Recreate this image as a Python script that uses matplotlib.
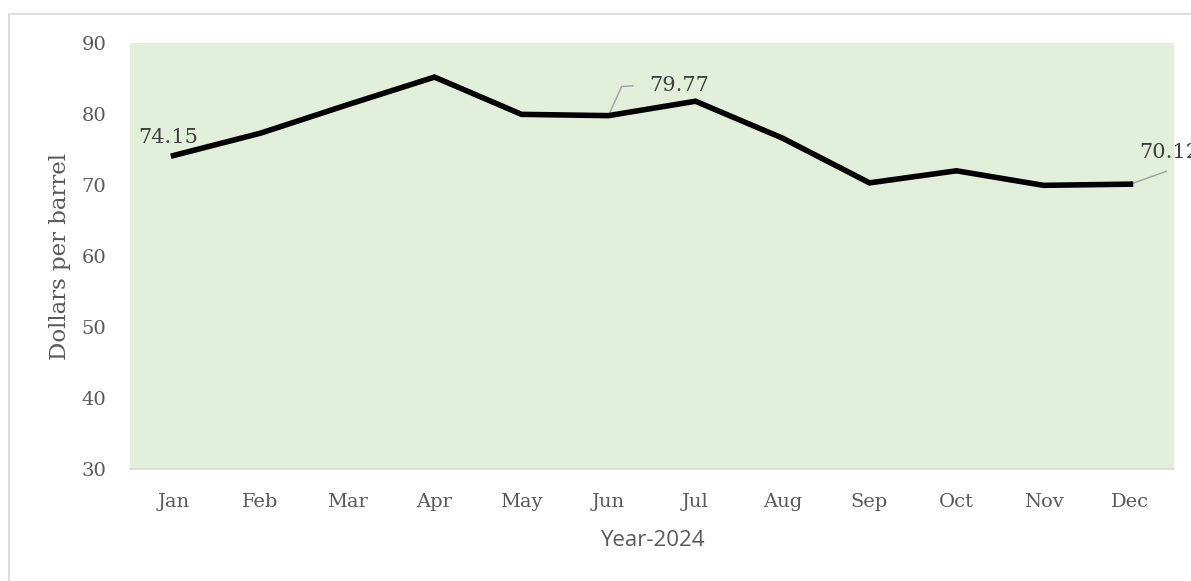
import matplotlib.pyplot as plt
from matplotlib.patches import Rectangle

months = ['Jan', 'Feb', 'Mar', 'Apr', 'May', 'Jun', 'Jul', 'Aug', 'Sep', 'Oct', 'Nov', 'Dec']
prices = [74.15, 77.3, 81.3, 85.2, 79.95, 79.77, 81.8, 76.6, 70.3, 72.0, 69.95, 70.12]
yticks = [30, 40, 50, 60, 70, 80, 90]

W, H = 1191, 581
fig = plt.figure(figsize=(W / 100, H / 100), dpi=100)
# plot area in pixels: x 130..1174, y 43..469
ax = fig.add_axes([130 / W, 1 - 469 / H, (1174 - 130) / W, (469 - 43) / H])
ax.set_facecolor('#e2efda')

# outer light frame, cut off at right and bottom like the reference
fig.patches.append(Rectangle((9 / W, -0.1), 1.2, 1 - 14 / H + 0.1, transform=fig.transFigure,
                             fill=False, edgecolor='#d9d9d9', linewidth=1.2))

x = list(range(len(months)))
ax.plot(x, prices, color='black', linewidth=4, solid_joinstyle='miter', zorder=3)

ax.set_xlim(-0.5, len(months) - 0.5)
ax.set_ylim(30, 90)
ax.set_yticks(yticks)
ax.set_xticks(x)
ax.set_xticklabels(months)

serif = 'DejaVu Serif'
txt = '#595959'
for lab in ax.get_xticklabels() + ax.get_yticklabels():
    lab.set_fontfamily(serif)
    lab.set_fontsize(14)
    lab.set_color(txt)
ax.tick_params(axis='both', length=0)
ax.tick_params(axis='x', pad=17)
ax.tick_params(axis='y', pad=17)

for s in ['top', 'right', 'left']:
    ax.spines[s].set_visible(False)
ax.spines['bottom'].set_color('#d9d9d9')
ax.spines['bottom'].set_linewidth(1.2)

ax.set_ylabel('Dollars per barrel', fontfamily=serif, fontsize=16.5, color=txt, va='center')
ax.yaxis.set_label_coords((60 - 130) / 1044, 0.5)
ax.set_xlabel('Year-2024', fontfamily='Open Sans', fontsize=16, color=txt, va='center')
ax.xaxis.set_label_coords(0.5, (469 - 540) / 426)

# data labels
lab_kw = dict(textcoords='offset points', fontfamily=serif, fontsize=15, color='#404040')
ax.annotate(f'{prices[0]:.2f}', (x[0], prices[0]), xytext=(-4, 6), ha='center', va='bottom', **lab_kw)
ax.annotate(f'{prices[5]:.2f}', (x[5], prices[5]), xytext=(29, 15), ha='left', va='bottom', **lab_kw)
ax.plot([x[5], x[5] + 0.15, x[5] + 0.28], [prices[5], prices[5] + 4.1, prices[5] + 4.2],
        color='#a6a6a6', linewidth=1.1, zorder=2)
ax.annotate(f'{prices[11]:.2f}', (x[11], prices[11]), xytext=(6.5, 16), ha='left', va='bottom',
            annotation_clip=False, **lab_kw)
ax.plot([x[11], x[11] + 0.41], [prices[11], prices[11] + 1.8],
        color='#a6a6a6', linewidth=1.1, zorder=2, clip_on=False)

fig.savefig('out.png', dpi=100)
